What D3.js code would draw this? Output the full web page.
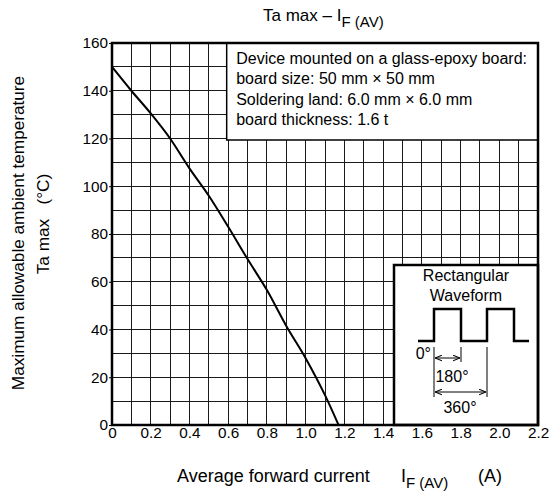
<!DOCTYPE html>
<html>
<head>
<meta charset="utf-8">
<script src="https://cdn.jsdelivr.net/npm/d3@7"></script>
<style>
  body { margin: 0; background: #fff; }
  svg text { font-family: "Liberation Sans", Arial, sans-serif; fill: #000; }
</style>
</head>
<body>
<div id="chart"></div>
<script>
// curve
var currentA = [0, 0.1, 0.2, 0.3, 0.4, 0.5, 0.6, 0.7, 0.8, 0.9, 1.0, 1.1, 1.17];
var tempC = [150, 140, 130.5, 120, 107.5, 96, 83, 69.5, 56.5, 41.5, 28, 12.5, 0];

var xTicks = [0, 0.2, 0.4, 0.6, 0.8, 1.0, 1.2, 1.4, 1.6, 1.8, 2.0, 2.2];
var yTicks = [0, 20, 40, 60, 80, 100, 120, 140, 160];

var noteLines = [
    'Device mounted on a glass-epoxy board:',
    'board size: 50 mm \u00d7 50 mm',
    'Soldering land: 6.0 mm \u00d7 6.0 mm',
    'board thickness: 1.6 t'
];

var W = 555, H = 497;
var margin = {left: 112, right: 17, top: 43, bottom: 72};

var svg = d3.select('#chart').append('svg')
    .attr('width', W).attr('height', H);

var x = d3.scaleLinear().domain([0, 2.2]).range([margin.left, W - margin.right]);
var y = d3.scaleLinear().domain([0, 160]).range([H - margin.bottom, margin.top]);

// grid
var grid = svg.append('g').attr('stroke', '#1a1a1a').attr('stroke-width', 1).attr('shape-rendering', 'crispEdges');
grid.selectAll('.vx').data(d3.range(1, 22).map(function(i) { return i / 10; }))
    .join('line')
    .attr('x1', function(d) { return x(d); }).attr('x2', function(d) { return x(d); })
    .attr('y1', y(0)).attr('y2', y(160));
grid.selectAll('.hy').data(d3.range(10, 160, 10))
    .join('line')
    .attr('y1', function(d) { return y(d); }).attr('y2', function(d) { return y(d); })
    .attr('x1', x(0)).attr('x2', x(2.2));

// axes
var xAxis = svg.append('g')
    .attr('transform', 'translate(0,' + y(0) + ')')
    .call(d3.axisBottom(x).tickValues(xTicks).tickSize(0).tickPadding(2)
        .tickFormat(function(d) { return d === 0 ? '0' : d.toFixed(1); }));
xAxis.select('.domain').remove();
xAxis.selectAll('text').attr('font-size', 15.3).attr('fill', '#000');

var yAxis = svg.append('g')
    .attr('transform', 'translate(' + x(0) + ',0)')
    .call(d3.axisLeft(y).tickValues(yTicks).tickSize(3).tickPadding(1));
yAxis.select('.domain').remove();
yAxis.selectAll('line').attr('stroke', '#000');
yAxis.selectAll('text').attr('font-size', 15.3).attr('fill', '#000');

// curve
var line = d3.line()
    .x(function(d, i) { return x(currentA[i]); })
    .y(function(d) { return y(d); })
    .curve(d3.curveMonotoneX);
svg.append('path')
    .datum(tempC)
    .attr('d', line)
    .attr('fill', 'none')
    .attr('stroke', '#000')
    .attr('stroke-width', 2);

// note box
var nb = svg.append('g');
nb.append('rect')
    .attr('x', x(0.6) - 1.5).attr('y', y(160))
    .attr('width', x(2.2) - x(0.6) + 1.5).attr('height', y(120) - y(160) + 1.5)
    .attr('fill', '#fff').attr('stroke', '#000').attr('stroke-width', 1.5);
nb.selectAll('text').data(noteLines).join('text')
    .attr('x', x(0.6) + 8)
    .attr('y', function(d, i) { return 64 + i * 20.3; })
    .attr('font-size', 16)
    .text(function(d) { return d; });

// waveform box
var wb = svg.append('g');
var bx0 = 394, by0 = 265;
wb.append('rect')
    .attr('x', bx0).attr('y', by0)
    .attr('width', x(2.2) - bx0).attr('height', y(0) - by0)
    .attr('fill', '#fff').attr('stroke', '#000').attr('stroke-width', 2.5);
wb.append('text').attr('x', 466).attr('y', 281).attr('text-anchor', 'middle').attr('font-size', 16).text('Rectangular');
wb.append('text').attr('x', 466).attr('y', 301).attr('text-anchor', 'middle').attr('font-size', 16).text('Waveform');

var lo = 341, hi = 309;
var px = [418, 434, 461, 487, 514, 529];
wb.append('path')
    .attr('d', 'M' + px[0] + ',' + lo + 'H' + px[1] + 'V' + hi + 'H' + px[2] + 'V' + lo +
        'H' + px[3] + 'V' + hi + 'H' + px[4] + 'V' + lo + 'H' + px[5])
    .attr('fill', 'none').attr('stroke', '#000').attr('stroke-width', 2.5);

var defs = svg.append('defs');
defs.append('marker')
    .attr('id', 'arr').attr('viewBox', '0 -5 10 10')
    .attr('refX', 10).attr('refY', 0)
    .attr('markerWidth', 7).attr('markerHeight', 7)
    .attr('markerUnits', 'userSpaceOnUse')
    .attr('orient', 'auto-start-reverse')
    .append('path').attr('d', 'M0,-4L10,0L0,4').attr('fill', 'none').attr('stroke', '#000').attr('stroke-width', 1.5);

wb.append('line').attr('x1', px[1]).attr('x2', px[1]).attr('y1', 347).attr('y2', 397).attr('stroke', '#000');
wb.append('line').attr('x1', px[2]).attr('x2', px[2]).attr('y1', 347).attr('y2', 362).attr('stroke', '#000');
wb.append('line').attr('x1', px[3]).attr('x2', px[3]).attr('y1', 347).attr('y2', 397).attr('stroke', '#000');
wb.append('line').attr('x1', px[1] + 1).attr('x2', px[2] - 1).attr('y1', 358).attr('y2', 358)
    .attr('stroke', '#000').attr('marker-start', 'url(#arr)').attr('marker-end', 'url(#arr)');
wb.append('line').attr('x1', px[1] + 1).attr('x2', px[3] - 1).attr('y1', 392).attr('y2', 392)
    .attr('stroke', '#000').attr('marker-start', 'url(#arr)').attr('marker-end', 'url(#arr)');
wb.append('text').attr('x', 431).attr('y', 359).attr('text-anchor', 'end').attr('font-size', 16).text('0\u00b0');
wb.append('text').attr('x', 452).attr('y', 382).attr('text-anchor', 'middle').attr('font-size', 16).text('180\u00b0');
wb.append('text').attr('x', 460).attr('y', 413).attr('text-anchor', 'middle').attr('font-size', 16).text('360\u00b0');

// frame
svg.append('rect')
    .attr('x', x(0)).attr('y', y(160))
    .attr('width', x(2.2) - x(0)).attr('height', y(0) - y(160))
    .attr('fill', 'none').attr('stroke', '#000').attr('stroke-width', 2.5);

// title
var title = svg.append('text').attr('x', 263).attr('y', 21).attr('font-size', 17);
title.append('tspan').text('Ta max \u2013 I');
title.append('tspan').attr('dy', 6).attr('font-size', 15).text('F (AV)');

// x label
var xl = svg.append('text').attr('x', 177).attr('y', 482).attr('font-size', 18);
xl.append('tspan').text('Average forward current');
xl.append('tspan').attr('x', 401).text('I');
xl.append('tspan').attr('dy', 6).attr('font-size', 15).text('F (AV)');
svg.append('text').attr('x', 478).attr('y', 482).attr('font-size', 18).text('(A)');

// y label
svg.append('text')
    .attr('transform', 'translate(24,233) rotate(-90)')
    .attr('text-anchor', 'middle').attr('font-size', 17.2)
    .text('Maximum allowable ambient temperature');
svg.append('text')
    .attr('transform', 'translate(49,224) rotate(-90)')
    .attr('text-anchor', 'middle').attr('font-size', 17.2)
    .attr('xml:space', 'preserve')
    .text('Ta max   (\u00b0C)');
</script>
</body>
</html>
